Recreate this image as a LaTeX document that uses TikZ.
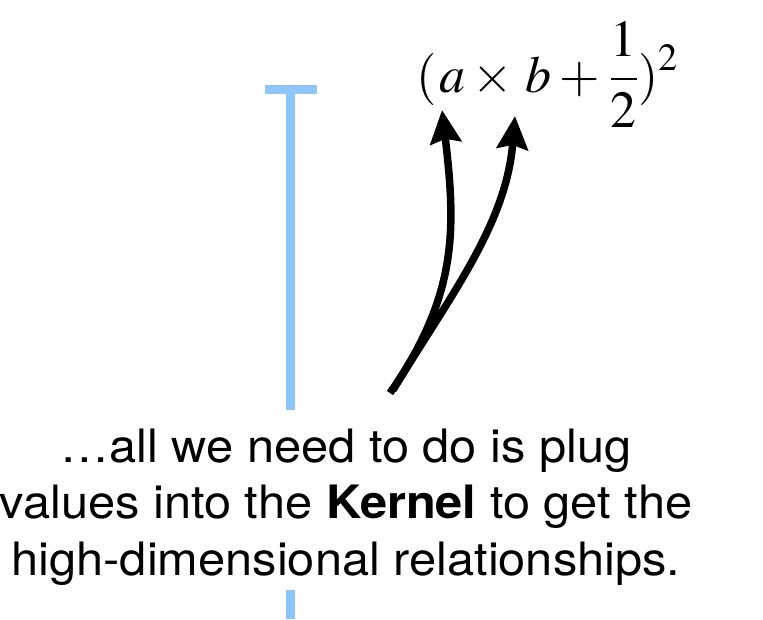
\documentclass[tikz,border=0pt]{standalone}
\usepackage{mathptmx}
\usepackage[no-math]{fontspec}
\setmainfont[FakeStretch=1.06]{TeX Gyre Heros}
\usetikzlibrary{arrows.meta}
\definecolor{skyline}{RGB}{142,198,250}
\tikzset{
  blueline/.style={draw=skyline, line width=8.5pt},
  bigarrow/.style={draw=black, line width=7.5pt, -{Stealth[width=31pt,length=33pt,inset=4pt]}},
  caption/.style={align=center, inner sep=0pt, font=\fontsize{46}{56.5}\selectfont},
  formula/.style={inner sep=0pt, font=\fontsize{52}{60}\selectfont}
}
\begin{document}
\begin{tikzpicture}[x=1pt,y=-1pt]
\useasboundingbox (0,0) rectangle (763,619);
% blue marker
\coordinate (capL) at (265,89.5);
\coordinate (capR) at (317,89.5);
\coordinate (capM) at (290.5,89.5);
\coordinate (gapT) at (290.5,410);
\coordinate (gapB) at (290.5,590);
\coordinate (bot) at (290.5,619);
\draw[blueline] (capL) -- (capR);
\draw[blueline] (capM) -- (gapT);
\draw[blueline] (gapB) -- (bot);
% formula
\node[formula, anchor=base west] (formula) at (416,92) {$\displaystyle (\mkern1mu a\times\mkern2mu b+\mkern1mu\frac{1}{2})^2$};
% caption
\node[caption, anchor=base] (caption) at (346,575) {\ldots all we need to do is plug\\values into the \textbf{Kernel} to get the\\high-dimensional relationships.};
% arrows
\coordinate (srcA) at (390,393);
\coordinate (srcB) at (393,390);
\coordinate (tipA) at (442,110);
\coordinate (tipB) at (515,116);
\draw[bigarrow] (srcA) .. controls (458,295) and (456,229) .. (tipA);
\draw[bigarrow] (srcB) .. controls (450,296) and (506,225) .. (tipB);
\end{tikzpicture}
\end{document}
